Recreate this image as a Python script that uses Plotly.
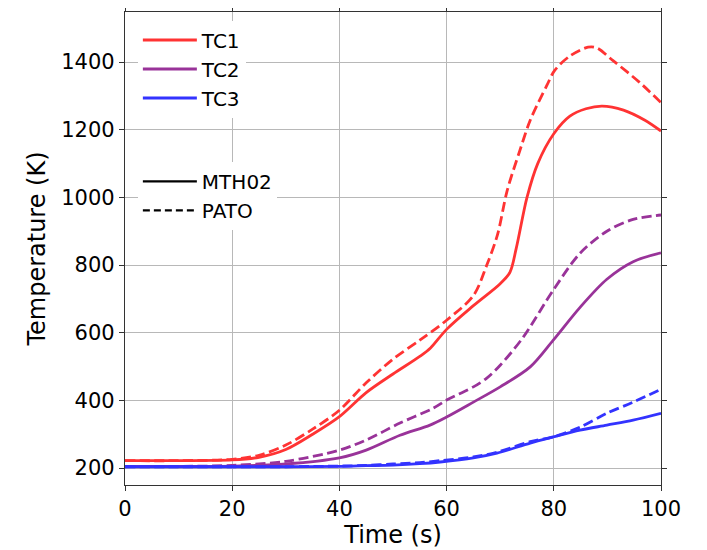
import plotly.graph_objects as go

# ---- data ----
tc1_mth_t = [0, 10, 20, 25, 30, 35, 40, 45, 50, 55, 57, 60, 65, 70, 71.8, 73, 75, 77, 80, 83, 86, 89, 93, 97, 100]
tc1_mth_v = [222, 222, 224, 232, 255, 300, 352, 423, 478, 530, 555, 610, 680, 745, 778, 850, 1000, 1100, 1188, 1240, 1262, 1270, 1258, 1228, 1196]

tc1_pato_t = [0, 10, 20, 25, 30, 35, 40, 45, 50, 55, 60, 65, 67.5, 69.5, 71.3, 73.7, 75.6, 78.7, 80.2, 83, 86.4, 88, 91, 96, 100]
tc1_pato_v = [222, 222, 226, 238, 268, 315, 371, 452, 522, 578, 637, 710, 800, 890, 1020, 1140, 1228, 1331, 1376, 1418, 1444, 1442, 1405, 1340, 1280]

tc2_mth_t = [0, 10, 20, 30, 40, 45, 51.3, 56.9, 60, 65, 70, 75.6, 79.9, 84.9, 89.9, 94.8, 100]
tc2_mth_v = [205, 205, 206, 212, 230, 253, 297, 327, 351, 395, 440, 499, 578, 675, 758, 810, 836]

tc2_pato_t = [0, 10, 20, 30, 40, 45, 51.3, 57.5, 60, 65, 67.5, 70, 74.3, 79.9, 84.9, 89.9, 94.8, 100]
tc2_pato_v = [205, 205, 208, 220, 253, 283, 333, 377, 401, 440, 466, 504, 587, 726, 835, 900, 935, 948]

tc3_mth_t = [0, 10, 20, 30, 40, 45, 50, 55, 58.8, 65, 69.4, 75.6, 79.9, 84.9, 89.9, 94.8, 100]
tc3_mth_v = [204, 204, 204, 204, 205, 207, 209, 213, 218, 230, 244, 274, 292, 312, 327, 342, 362]

tc3_pato_t = [0, 10, 20, 30, 40, 45, 50, 55, 58.8, 65, 69.4, 75.6, 79.9, 84.9, 89.9, 94.8, 100]
tc3_pato_v = [204, 204, 204, 204, 206, 208, 212, 216, 222, 233, 247, 278, 292, 321, 362, 395, 433]

series_names = ["TC1", "TC2", "TC3"]
method_names = ["MTH02", "PATO"]
colors = ["rgb(255,51,51)", "rgb(153,51,153)", "rgb(51,51,255)"]

x_ticks = [0, 20, 40, 60, 80, 100]
y_ticks = [200, 400, 600, 800, 1000, 1200, 1400]

DASH = "10px,4.5px"
LW = 2.8
SMOOTH = 0.9

fig = go.Figure()
data = [
    (tc1_mth_t, tc1_mth_v, tc1_pato_t, tc1_pato_v),
    (tc2_mth_t, tc2_mth_v, tc2_pato_t, tc2_pato_v),
    (tc3_mth_t, tc3_mth_v, tc3_pato_t, tc3_pato_v),
]
for name, col, (mt, mv, pt, pv) in zip(series_names, colors, data):
    fig.add_trace(go.Scatter(x=mt, y=mv, mode="lines", name=name,
                             line=dict(color=col, width=LW, shape="spline", smoothing=SMOOTH),
                             legend="legend", showlegend=True))
    fig.add_trace(go.Scatter(x=pt, y=pv, mode="lines", name=name,
                             line=dict(color=col, width=LW, dash=DASH, shape="spline", smoothing=SMOOTH),
                             showlegend=False))

fig.add_trace(go.Scatter(x=[None], y=[None], mode="lines", name=method_names[0],
                         line=dict(color="black", width=2.2), legend="legend2"))
fig.add_trace(go.Scatter(x=[None], y=[None], mode="lines", name=method_names[1],
                         line=dict(color="black", width=2.2, dash="7px,4px"), legend="legend2"))

font_family = "DejaVu Sans, sans-serif"
axis_common = dict(
    showline=True, linecolor="#333333", linewidth=1.3, mirror="ticks",
    ticks="outside", ticklen=5, tickwidth=1.3, tickcolor="#333333",
    showgrid=True, gridcolor="#b8b8b8", gridwidth=1.2, automargin=False,
    zeroline=False, tickfont=dict(size=21, color="black", family=font_family),
)

# page body has an 8px margin, so the figure is sized/offset to compensate
fig.update_layout(
    width=699, height=542,
    margin=dict(l=117, r=46, t=4, b=65),
    plot_bgcolor="white", paper_bgcolor="white",
    font=dict(family=font_family, color="black"),
    xaxis=dict(range=[0, 100], tickvals=x_ticks,
               title=dict(text="Time (s)", font=dict(size=24), standoff=0),
               **axis_common),
    yaxis=dict(range=[150, 1548], tickvals=y_ticks,
               title=dict(text="Temperature (K)", font=dict(size=24), standoff=8),
               **axis_common),
    legend=dict(x=0.024, y=0.982, xanchor="left", yanchor="top",
                bgcolor="white", borderwidth=0, itemwidth=54,
                font=dict(size=20, family=font_family), tracegroupgap=0),
    legend2=dict(x=0.024, y=0.683, xanchor="left", yanchor="top",
                 bgcolor="white", borderwidth=0, itemwidth=54,
                 font=dict(size=20, family=font_family)),
)

fig.write_html("out.html")
